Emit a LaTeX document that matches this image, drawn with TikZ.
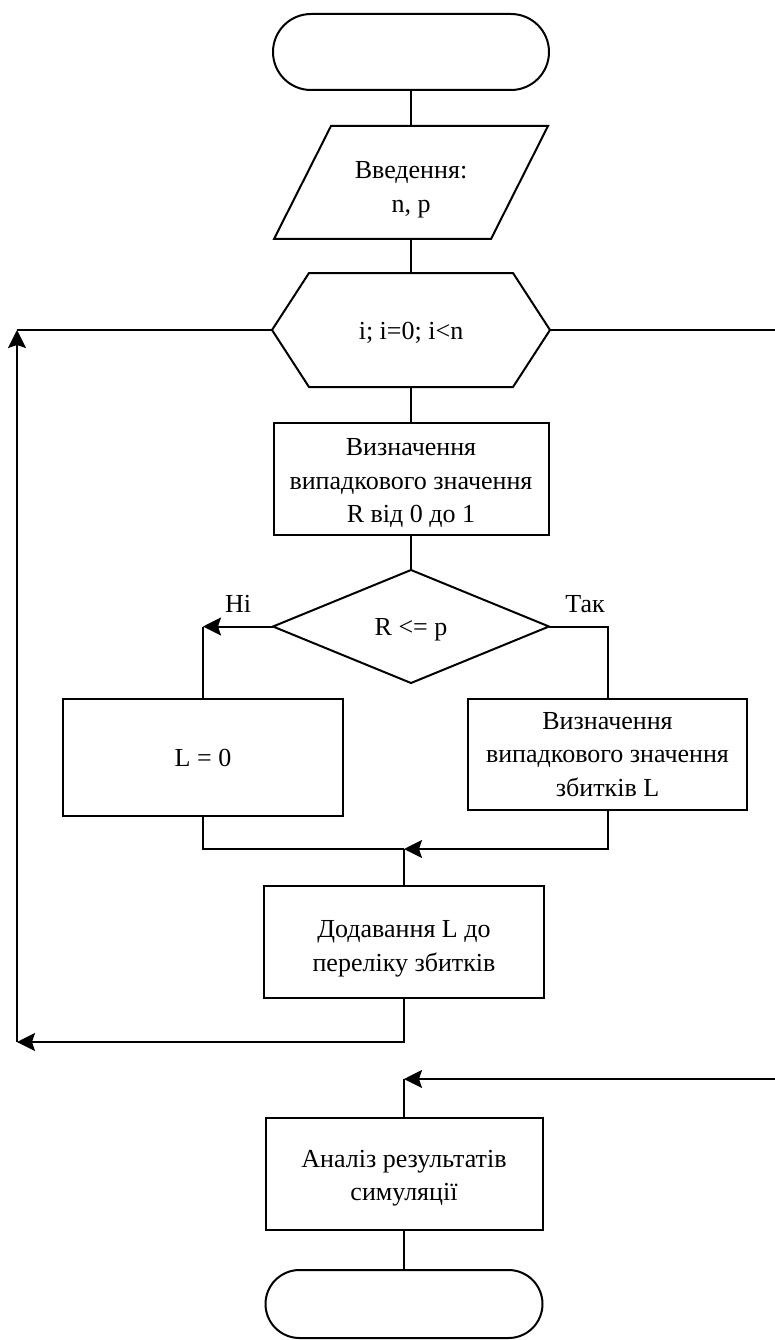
\documentclass[tikz,border=0pt]{standalone}
\usepackage{fontspec}
\setmainfont{Liberation Serif}
\usetikzlibrary{arrows.meta,calc}
\begin{document}
\begin{tikzpicture}[x=1pt,y=-1pt,
  line width=2pt,
  every node/.style={font=\fontsize{26}{33.5}\selectfont, align=center, inner sep=0pt},
  box/.style={draw, rectangle},
  term/.style={draw, rectangle, rounded corners=#1},
  tip/.style={-{Stealth[length=18pt,width=18pt,inset=3pt]}}]

% page area
\path[use as bounding box, fill=white] (0,0) rectangle (775,1340);

% start terminator
\node[term=38pt, minimum width=276pt, minimum height=76pt] (start) at (411,52) {};

% input (parallelogram)
\node[minimum width=272pt, minimum height=111pt] (inp) at (411,182.5) {};
\draw ($(inp.north west)+(57,0)$) -- (inp.north east)
      -- ($(inp.south east)+(-57,0)$) -- (inp.south west) -- cycle;
\node (inptxt) at (411,190) {Введення:\\n, p};

% loop header (hexagon)
\node[minimum width=276pt, minimum height=112pt] (loop) at (411,330) {};
\draw (loop.west) -- ($(loop.north west)+(37,0)$) -- ($(loop.north east)+(-37,0)$)
      -- (loop.east) -- ($(loop.south east)+(-37,0)$) -- ($(loop.south west)+(37,0)$) -- cycle;
\node (looptxt) at (411,333) {i; i=0; i<n};

% random value R
\node[box, minimum width=275pt, minimum height=112pt] (rand) at (411,479) {};
\node (randtxt) at (411,483) {Визначення\\випадкового значення\\R від 0 до 1};

% decision
\node[minimum width=274pt, minimum height=111pt] (cond) at (411,626.5) {};
\draw (cond.north) -- (cond.east) -- (cond.south) -- (cond.west) -- cycle;
\node (condtxt) at (411,629.5) {R <= p};

% branches
\node[box, minimum width=280pt, minimum height=117pt] (zero) at (203,757.5) {L = 0};
\node[box, minimum width=279pt, minimum height=111pt] (loss) at (607.5,754.5)
  {Визначення\\випадкового значення\\збитків L};

% accumulate
\node[box, minimum width=280pt, minimum height=112pt] (add) at (404,942) {};
\node (addtxt) at (404,949) {Додавання L до\\переліку збитків};

% analysis
\node[box, minimum width=277pt, minimum height=112pt] (anal) at (404,1174) {};
\node (analtxt) at (404,1178) {Аналіз результатів\\симуляції};

% end terminator
\node[term=34pt, minimum width=277pt, minimum height=68pt] (fin) at (404,1304) {};

% branch labels
\node (nolbl) at (238,604) {Ні};
\node (yeslbl) at (585,604) {Так};

% helper points
\coordinate (no) at (zero.north |- cond.west);
\coordinate (mrg) at (404,849);
\coordinate (lb) at (17,1042);
\coordinate (lt) at (17,330);
\coordinate (ex) at (775,330);
\coordinate (re) at (775,1079);
\coordinate (jn) at (404,1079);

% connectors
\draw (start.south) -- (start.south |- inp.north);
\draw (inp.south) -- (loop.north);
\draw (loop) -- (rand);
\draw (rand) -- (cond);
\draw[tip] (cond.west) -- (no);
\draw (no) -- (zero.north);
\draw (cond.east) -| (loss.north);
\draw (zero.south) |- (mrg);
\draw[tip] (loss.south) |- (mrg);
\draw (mrg) -- (add.north);
\draw[tip] (add.south) |- (lb);
\draw[tip] (lb) -- (lt);
\draw (lt) -- (loop.west);
\draw (loop.east) -- (ex);
\draw[tip] (re) -- (jn);
\draw (jn) -- (anal.north);
\draw (anal) -- (fin);
\end{tikzpicture}
\end{document}
